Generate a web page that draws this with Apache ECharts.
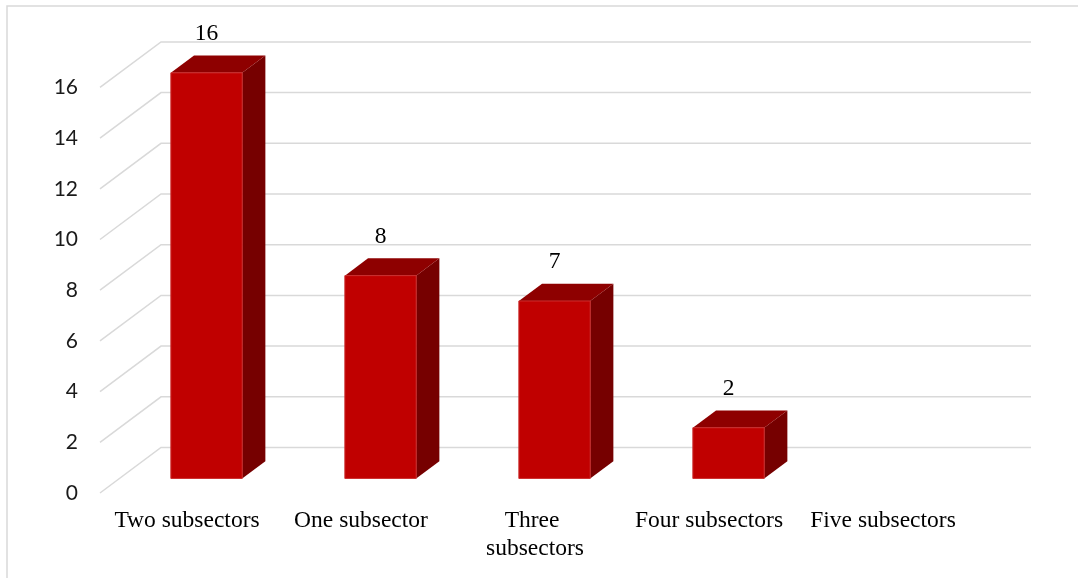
<!DOCTYPE html>
<html>
<head>
<meta charset="utf-8">
<script src="https://cdn.jsdelivr.net/npm/echarts@6/dist/echarts.min.js"></script>
<style>
  html, body { margin: 0; padding: 0; background: #ffffff; }
  #chart { width: 1078px; height: 578px; }
</style>
</head>
<body>
<div id="chart"></div>
<script>
// Number of cases by how many subsectors they span
const categories = ['Two subsectors', 'One subsector', 'Three subsectors', 'Four subsectors', 'Five subsectors'];
const counts = [16, 8, 7, 2, null];
const valueTicks = [0, 2, 4, 6, 8, 10, 12, 14, 16];

// Oblique depth of the 3-D floor (pixels) and bar placement inside it
const DEPTH_X = 61;
const DEPTH_Y = -45.5;
const BAR_FRONT = 0.32;     // depth fraction of the bar's front face
const BAR_DEPTH = 0.38;     // depth fraction taken by the bar
const BAR_WIDTH = 0.41;     // share of the category band

const chart = echarts.init(document.getElementById('chart'), null, { renderer: 'canvas' });

function renderWallLines(params, api) {
  const v = api.value(1);
  const cs = params.coordSys;
  const y = api.coord([0, v])[1];
  const left = cs.x;
  const right = cs.x + cs.width;
  return {
    type: 'polyline',
    shape: {
      points: [
        [left, y],
        [left + DEPTH_X, y + DEPTH_Y],
        [right + DEPTH_X, y + DEPTH_Y]
      ]
    },
    style: { stroke: '#d9d9d9', lineWidth: 1.5, fill: null },
    silent: true
  };
}

function renderBox(params, api) {
  const v = api.value(1);
  if (v == null || isNaN(v)) return null;
  const idx = api.value(0);
  const base = api.coord([idx, 0]);
  const top = api.coord([idx, v]);
  const band = api.size([1, 0])[0];
  const w = band * BAR_WIDTH;
  const fx = DEPTH_X * BAR_FRONT;
  const fy = DEPTH_Y * BAR_FRONT;
  const bx = DEPTH_X * BAR_DEPTH;
  const by = DEPTH_Y * BAR_DEPTH;
  const x0 = base[0] + fx - w / 2;
  const x1 = x0 + w;
  const yTop = top[1] + fy;
  const yBot = base[1] + fy;
  return {
    type: 'group',
    children: [
      {
        type: 'polygon',
        shape: { points: [[x1, yTop], [x1 + bx, yTop + by], [x1 + bx, yBot + by], [x1, yBot]] },
        style: { fill: '#760000' }
      },
      {
        type: 'polygon',
        shape: { points: [[x0, yTop], [x1, yTop], [x1 + bx, yTop + by], [x0 + bx, yTop + by]] },
        style: { fill: '#8e0000' }
      },
      {
        type: 'rect',
        shape: { x: x0, y: yTop, width: w, height: yBot - yTop },
        style: { fill: '#c00000', stroke: '#cc2e2e', lineWidth: 1 }
      },
      {
        type: 'text',
        style: {
          text: String(v),
          x: (x0 + x1) / 2,
          y: yTop - 39,
          align: 'center',
          verticalAlign: 'middle',
          fill: '#000000',
          font: '23.5px "Liberation Serif", "Times New Roman", serif'
        }
      }
    ]
  };
}

const option = {
  backgroundColor: '#ffffff',
  animation: false,
  graphic: [
    {
      type: 'rect',
      shape: { x: 7, y: 6, width: 1100, height: 600 },
      style: { fill: null, stroke: '#d9d9d9', lineWidth: 1.5 },
      silent: true,
      z: -10
    }
  ],
  grid: { left: 100, right: 108, top: 87.4, bottom: 85, containLabel: false },
  xAxis: {
    type: 'category',
    data: categories,
    boundaryGap: true,
    axisLine: { show: false },
    axisTick: { show: false },
    splitLine: { show: false },
    axisLabel: {
      interval: 0,
      margin: 14,
      color: '#000000',
      fontFamily: '"Liberation Serif", "Times New Roman", serif',
      fontSize: 23.5,
      lineHeight: 28,
      width: 153,
      overflow: 'break'
    }
  },
  yAxis: {
    type: 'value',
    min: 0,
    max: 16,
    interval: 2,
    axisLine: { show: false },
    axisTick: { show: false },
    splitLine: { show: false },
    axisLabel: {
      margin: 22,
      color: '#1a1a1a',
      fontFamily: 'Lato, "Open Sans", sans-serif',
      fontSize: 21
    }
  },
  series: [
    {
      type: 'custom',
      name: 'wall',
      z: 1,
      silent: true,
      renderItem: renderWallLines,
      data: valueTicks.map(t => [0, t])
    },
    {
      type: 'custom',
      name: 'cases',
      z: 2,
      renderItem: renderBox,
      data: counts.map((c, i) => [i, c])
    }
  ]
};

chart.setOption(option);
</script>
</body>
</html>
